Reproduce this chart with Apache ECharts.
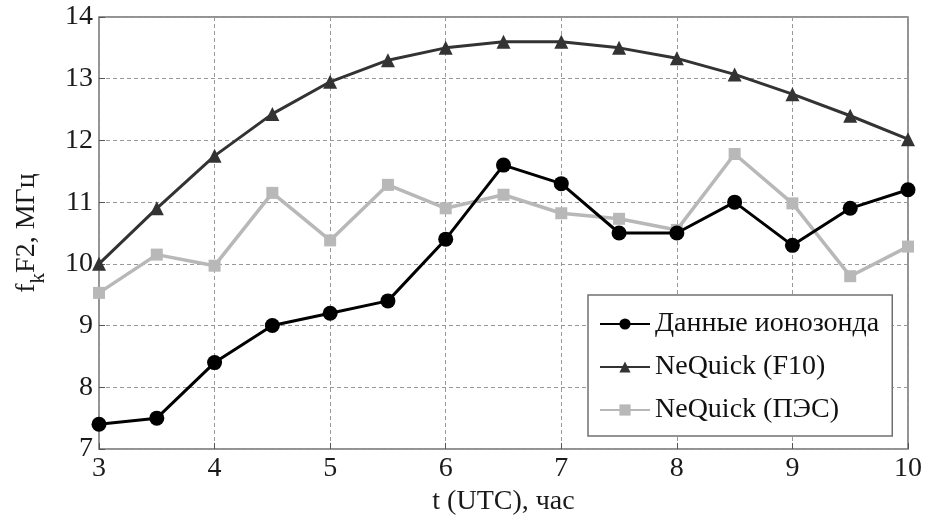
<!DOCTYPE html>
<html>
<head>
<meta charset="utf-8">
<script src="https://cdn.jsdelivr.net/npm/echarts@6/dist/echarts.min.js"></script>
<style>
  html, body { margin: 0; padding: 0; background: #fff; }
  #main { width: 925px; height: 517px; }
</style>
</head>
<body>
<div id="main"></div>
<script>
var hours = [3, 3.5, 4, 4.5, 5, 5.5, 6, 6.5, 7, 7.5, 8, 8.5, 9, 9.5, 10];
var ionosonde = [7.4, 7.5, 8.4, 9.0, 9.2, 9.4, 10.4, 11.6, 11.3, 10.5, 10.5, 11.0, 10.3, 10.9, 11.2];
var neqF10 = [10.0, 10.9, 11.75, 12.43, 12.95, 13.3, 13.5, 13.6, 13.6, 13.5, 13.33, 13.07, 12.75, 12.4, 12.02];
var neqTec = [9.53, 10.15, 9.97, 11.15, 10.38, 11.28, 10.9, 11.12, 10.82, 10.73, 10.55, 11.78, 10.98, 9.8, 10.28];
var names = ['Данные ионозонда', 'NeQuick (F10)', 'NeQuick (ПЭС)'];

function pairs(ys) {
    return hours.map(function (h, i) { return [h, ys[i]]; });
}

var font = 'Liberation Serif';
var myChart = echarts.init(document.getElementById('main'));

myChart.setOption({
    animation: false,
    backgroundColor: '#fff',
    grid: {
        left: 99, right: 17, top: 17, bottom: 68,
        outerBoundsMode: 'none',
        show: true, borderColor: '#707070', borderWidth: 1.5
    },
    legend: {
        left: 588, top: 295,
        orient: 'vertical',
        itemWidth: 50, itemHeight: 14, itemGap: 15,
        padding: [15, 13, 12, 11],
        borderColor: '#707070', borderWidth: 1.5,
        backgroundColor: '#fff',
        textStyle: { fontFamily: font, fontSize: 28, color: '#111' },
        data: names
    },
    xAxis: {
        type: 'value', min: 3, max: 10, interval: 1,
        name: 't (UTC), час', nameLocation: 'middle', nameGap: 35,
        nameTextStyle: { fontFamily: font, fontSize: 28, color: '#1a1a1a' },
        axisLine: { show: false },
        axisTick: { inside: true, length: 6, lineStyle: { color: '#555' } },
        axisLabel: { fontFamily: font, fontSize: 28, color: '#1a1a1a', margin: 6 },
        splitLine: { lineStyle: { type: [4, 3], color: '#999' } }
    },
    yAxis: {
        type: 'value', min: 7, max: 14, interval: 1,
        name: '{a|f}{s|k}{a|F2, МГц}', nameLocation: 'middle', nameGap: 50,
        nameRotate: 90,
        nameTextStyle: {
            rich: {
                a: { fontFamily: font, fontSize: 28, color: '#1a1a1a', verticalAlign: 'top', lineHeight: 36 },
                s: { fontFamily: font, fontSize: 21, color: '#1a1a1a', verticalAlign: 'bottom', lineHeight: 36, padding: [12, 0, 0, 0] }
            }
        },
        axisLine: { show: false },
        axisTick: { inside: true, length: 6, lineStyle: { color: '#555' } },
        axisLabel: { fontFamily: font, fontSize: 28, color: '#1a1a1a', margin: 6 },
        splitLine: { lineStyle: { type: [4, 3], color: '#999' } }
    },
    series: [{
        name: names[0], type: 'line', data: pairs(ionosonde),
        symbol: 'circle', symbolSize: 15, z: 4,
        lineStyle: { color: '#000', width: 3 },
        itemStyle: { color: '#000' }
    }, {
        name: names[1], type: 'line', data: pairs(neqF10),
        symbol: 'triangle', symbolSize: 14, z: 3,
        lineStyle: { color: '#333', width: 3 },
        itemStyle: { color: '#333' }
    }, {
        name: names[2], type: 'line', data: pairs(neqTec),
        symbol: 'rect', symbolSize: 12, z: 2,
        lineStyle: { color: '#b8b8b8', width: 3.5 },
        itemStyle: { color: '#b8b8b8' }
    }]
});
</script>
</body>
</html>
